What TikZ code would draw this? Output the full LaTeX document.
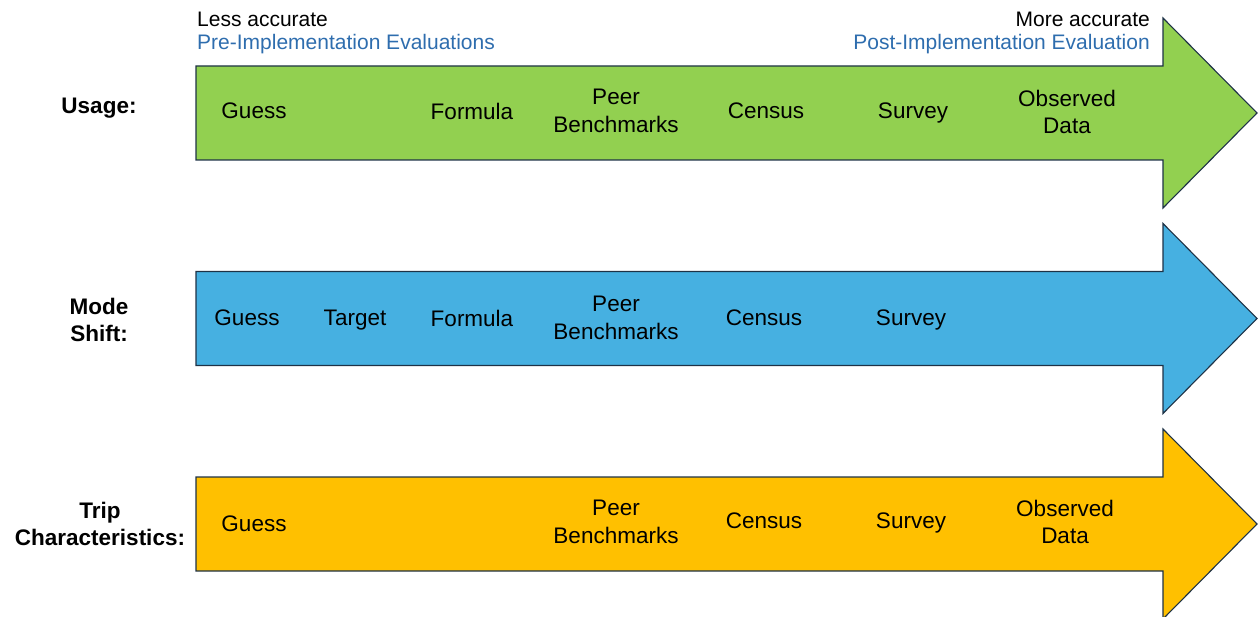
\documentclass[tikz,border=0pt]{standalone}
\usepackage{fontspec}
\setmainfont{Liberation Sans}
\definecolor{agreen}{HTML}{92D050}
\definecolor{ablue}{HTML}{46B0E1}
\definecolor{ayellow}{HTML}{FFC000}
\definecolor{aedge}{HTML}{1E3246}
\definecolor{evalblue}{HTML}{2E6DAE}
\begin{document}
\begin{tikzpicture}[x=1pt,y=-1pt,
  arrowshape/.style={draw=aedge,line width=1.1pt,line join=miter},
  item/.style={inner sep=0pt,align=center,font=\fontsize{22.5}{27.5}\selectfont},
  rowlabel/.style={inner sep=0pt,align=center,font=\fontsize{22.5}{27.5}\selectfont\bfseries},
  toptext/.style={inner sep=0pt,font=\fontsize{21}{25}\selectfont}]
\useasboundingbox (0,0) rectangle (1258,617);
% arrows
\foreach \c/\t in {agreen/0, ablue/205.5, ayellow/411}{
  \filldraw[arrowshape,fill=\c] (196,66+\t) -- (1163,66+\t) -- (1163,18+\t) -- (1257,113+\t)
     -- (1163,208+\t) -- (1163,160+\t) -- (196,160+\t) -- cycle;
}
% top texts
\node[toptext,anchor=west] (less) at (197,19) {Less accurate};
\node[toptext,anchor=west,text=evalblue] (pre) at (197,44) {Pre-Implementation Evaluations};
\node[toptext,anchor=east] (more) at (1150,19) {More accurate};
\node[toptext,anchor=east,text=evalblue] (post) at (1150,44) {Post-Implementation Evaluation};
% row labels
\node[rowlabel] (usage) at (99,108) {Usage:};
\node[rowlabel] (mode) at (99,320) {Mode\\Shift:};
\node[rowlabel] (trip) at (100,524) {Trip\\Characteristics:};
% row 1
\node[item] (g1) at (254,111) {Guess};
\node[item] (f1) at (472,111) {Formula};
\node[item] (p1) at (616,111) {Peer\\Benchmarks};
\node[item] (c1) at (766,111) {Census};
\node[item] (s1) at (913,113) {Survey};
\node[item] (o1) at (1067,112) {Observed\\Data};
% row 2
\node[item] (g2) at (247,318) {Guess};
\node[item] (t2) at (355,320) {Target};
\node[item] (f2) at (472,318) {Formula};
\node[item] (p2) at (616,318) {Peer\\Benchmarks};
\node[item] (c2) at (764,318) {Census};
\node[item] (s2) at (911,320) {Survey};
% row 3
\node[item] (g3) at (254,524) {Guess};
\node[item] (p3) at (616,522) {Peer\\Benchmarks};
\node[item] (c3) at (764,521) {Census};
\node[item] (s3) at (911,523) {Survey};
\node[item] (o3) at (1065,522) {Observed\\Data};
\end{tikzpicture}
\end{document}
